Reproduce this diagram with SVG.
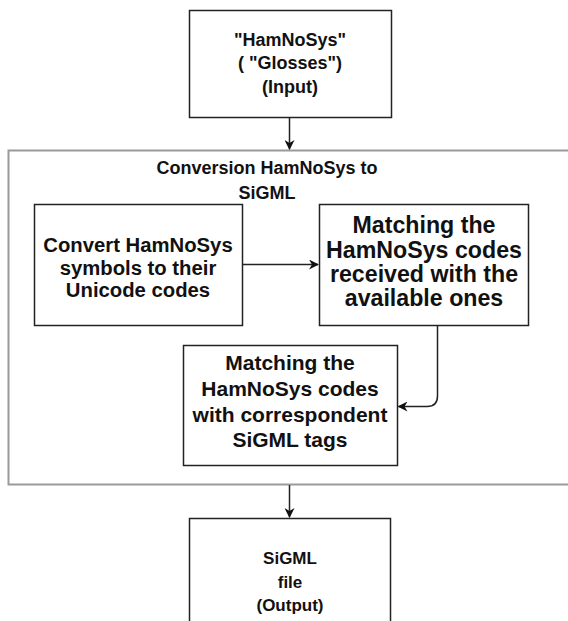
<svg xmlns="http://www.w3.org/2000/svg" width="568" height="621" viewBox="0 0 568 621">
<style>
.box{fill:#fff;stroke:#222;stroke-width:1.5}
.cont{fill:#fff;stroke:#9a9a9a;stroke-width:2}
.t{font-family:"Liberation Sans",Arial,sans-serif;font-weight:bold;fill:#111;text-anchor:middle}
.edge{fill:none;stroke:#222;stroke-width:1.5}
</style>
<defs>
<marker id="arr" viewBox="0 0 10 10" refX="9" refY="5" markerWidth="10" markerHeight="10" markerUnits="userSpaceOnUse" orient="auto">
<path d="M0,0 L10,5 L0,10 L3,5 Z" fill="#111"/>
</marker>
</defs>
<rect width="568" height="621" fill="#fff"/>
<g id="container">
<rect class="cont" x="8.5" y="150.5" width="580" height="334"/>
<text class="t" font-size="18"><tspan x="267" y="174">Conversion HamNoSys to</tspan><tspan x="267" y="199">SiGML</tspan></text>
</g>
<g id="input">
<rect class="box" x="189.5" y="10.5" width="202" height="107"/>
<text class="t" font-size="18"><tspan x="290" y="46">"HamNoSys"</tspan><tspan x="290" y="69">( "Glosses")</tspan><tspan x="290" y="93">(Input)</tspan></text>
</g>
<g id="convert">
<rect class="box" x="34.5" y="204.5" width="208" height="121"/>
<text class="t" font-size="20.3"><tspan x="138" y="252">Convert HamNoSys</tspan><tspan x="138" y="275">symbols to their</tspan><tspan x="138" y="297">Unicode codes</tspan></text>
</g>
<g id="matching1">
<rect class="box" x="319.5" y="204.5" width="209" height="121"/>
<text class="t" font-size="23.2"><tspan x="424" y="233">Matching the</tspan><tspan x="424" y="258">HamNoSys codes</tspan><tspan x="424" y="282">received with the</tspan><tspan x="424" y="306">available ones</tspan></text>
</g>
<g id="matching2">
<rect class="box" x="183.5" y="345.5" width="214" height="120"/>
<text class="t" font-size="21"><tspan x="290" y="370">Matching the</tspan><tspan x="290" y="396">HamNoSys codes</tspan><tspan x="290" y="422">with correspondent</tspan><tspan x="290" y="447">SiGML tags</tspan></text>
</g>
<g id="output">
<rect class="box" x="189.5" y="518.5" width="201" height="120"/>
<text class="t" font-size="17"><tspan x="290" y="564">SiGML</tspan><tspan x="290" y="588">file</tspan><tspan x="290" y="611">(Output)</tspan></text>
</g>
<g id="connectors">
<path class="edge" d="M289.5 117.5 V149" marker-end="url(#arr)"/>
<path class="edge" d="M242.5 264.5 H318" marker-end="url(#arr)"/>
<path class="edge" d="M437.5 325.5 V396 Q437.5 406.5 427 406.5 H398.5" marker-end="url(#arr)"/>
<path class="edge" d="M289.5 485 V517" marker-end="url(#arr)"/>
</g>
</svg>
